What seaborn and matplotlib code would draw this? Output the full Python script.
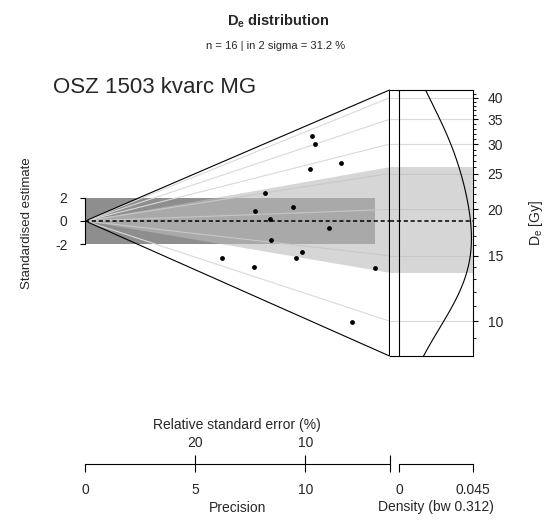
import numpy as np
import pandas as pd
import matplotlib
matplotlib.use("Agg")
import matplotlib.pyplot as plt
import matplotlib.transforms as mtransforms
from matplotlib.patches import Polygon, Rectangle
import seaborn as sns

# ---------------------------------------------------------------- data
# equivalent doses and their standard errors (Gy)
de_gy = [37.8, 35.0, 28.5, 28.8, 25.1, 20.8, 21.1, 19.0,
         17.6, 15.3, 11.2, 14.2, 13.4, 11.1, 13.7, 9.1]
de_err_gy = [3.67, 3.35, 2.45, 2.82, 3.07, 2.69, 2.23, 2.26,
             1.59, 1.81, 1.80, 1.44, 1.40, 1.45, 1.04, 0.75]

de_limits = [8.05, 42.0]
de_major_ticks = [10, 15, 20, 25, 30, 35, 40]
de_minor_ticks = [9, 11, 12, 13, 14, 16, 17, 18, 19, 21, 22, 23, 24,
                  26, 27, 28, 29, 31, 32, 33, 34, 36, 37, 38, 39, 41]
dispersion_bar_gy = [13.5, 26.0]
z_ticks = [-2, 0, 2]
precision_ticks = [0, 5, 10]
rse_ticks = [20, 10]
density_ticks = [0, 0.045]
kde_bw = 0.312
sample_name = "OSZ 1503 kvarc MG"

# ---------------------------------------------------------- statistics
df = pd.DataFrame({"de": de_gy, "err": de_err_gy})
df["log_de"] = np.log(df["de"])
df["precision"] = df["de"] / df["err"]
z0 = np.average(df["log_de"], weights=df["precision"] ** 2)
df["z"] = (df["log_de"] - z0) * df["precision"]
n = len(df)
in_2sigma = 100 * np.mean(np.abs(df["z"]) <= 2)
x_max = 1.05 * df["precision"].max()


def z_at_edge(d):
    return (np.log(d) - z0) * x_max


grid_u = np.linspace(np.log(de_limits[0]), np.log(de_limits[1]), 400)
kern = np.exp(-0.5 * ((grid_u[:, None] - df["log_de"].values[None, :]) / kde_bw) ** 2)
dens = kern.sum(axis=1) / (np.sqrt(2 * np.pi) * kde_bw * n * n)
kde_df = pd.DataFrame({"density": dens, "de": np.exp(grid_u)})

# -------------------------------------------------------------- styling
sns.set_style("white")
plt.rcParams["font.family"] = ["Liberation Sans", "DejaVu Sans"]
plt.rcParams["mathtext.fontset"] = "custom"
plt.rcParams["mathtext.rm"] = "Liberation Sans"
plt.rcParams["mathtext.it"] = "Liberation Sans:italic"
plt.rcParams["mathtext.bf"] = "Liberation Sans:bold"
plt.rcParams["mathtext.sf"] = "Liberation Sans"

rect_col = "#8e8e8e"
band_col = "#bcbcbc"
band_alpha = 0.6
grid_col = "#d9d9d9"
dash = (0, (2.7, 1.8))
LW = 0.8

W, H = 556, 525
fig = plt.figure(figsize=(W / 100, H / 100), dpi=100)


def box(x0, y0, x1, y1):
    return [x0 / W, 1 - y1 / H, (x1 - x0) / W, (y1 - y0) / H]


X0, XE, XD0, XD1 = 85.2, 389.5, 399.3, 472.7
YT, YB = 90, 356
Y_AX = 464

# ------------------------------------------------------- radial part
ax_r = fig.add_axes(box(X0, YT, XE, YB))
ax_r.add_patch(Rectangle((0, -2), df["precision"].max(), 4,
                         fc=rect_col, ec="none", zorder=1))
for d in de_major_ticks:
    ax_r.plot([0, x_max], [0, z_at_edge(d)], color=grid_col, lw=LW, zorder=2)
ax_r.add_patch(Polygon([(0, 0), (x_max, z_at_edge(dispersion_bar_gy[1])),
                        (x_max, z_at_edge(dispersion_bar_gy[0]))],
                       closed=True, fc=band_col, alpha=band_alpha, ec="none", zorder=3))
ax_r.add_patch(Polygon([(0, 0), (x_max, z_at_edge(de_limits[1])),
                        (x_max, z_at_edge(de_limits[0]))],
                       closed=True, fill=False, ec="black", lw=LW, zorder=4,
                       clip_on=False))
ax_r.plot([0, x_max], [0, 0], ls=dash, color="black", lw=1.1, zorder=4)
sns.scatterplot(data=df, x="precision", y="z", ax=ax_r, color="black",
                s=12, linewidth=0, zorder=5)
ax_r.set_xlim(0, x_max)
ax_r.set_ylim(z_at_edge(de_limits[0]), z_at_edge(de_limits[1]))
ax_r.patch.set_visible(False)
for s in ["top", "right", "bottom"]:
    ax_r.spines[s].set_visible(False)
ax_r.spines["left"].set_bounds(-2, 2)
ax_r.spines["left"].set_linewidth(LW)
ax_r.spines["left"].set_color("black")
ax_r.set_xticks([])
ax_r.set_xlabel("")
ax_r.set_yticks(z_ticks)
ax_r.set_yticklabels([str(t) for t in z_ticks])
ax_r.tick_params(axis="y", direction="out", length=3.8, width=LW, pad=8.9,
                 labelsize=10, color="black", left=True)
ax_r.set_ylabel("Standardised estimate", fontsize=9.5)
ax_r.yaxis.label.set_va("center")
ax_r.yaxis.set_label_coords((27 - X0) / (XE - X0), (YB - 223) / (YB - YT))

# ------------------------------------------------------ density panel
ax_d = fig.add_axes(box(XE, YT, XD1, YB))
d_left = -density_ticks[1] * (XD0 - XE) / (XD1 - XD0)
ax_d.set_yscale("log")
for d in de_major_ticks:
    ax_d.axhline(d, color=grid_col, lw=LW, zorder=2)
ax_d.axhspan(dispersion_bar_gy[0], dispersion_bar_gy[1], fc=band_col,
             alpha=band_alpha, ec="none", zorder=3)
ax_d.axhline(np.exp(z0), ls=dash, color="black", lw=1.1, zorder=4)
ax_d.axvline(0, color="black", lw=LW, zorder=4)
sns.lineplot(data=kde_df, x="density", y="de", ax=ax_d, orient="y",
             estimator=None, sort=False, color="black", lw=LW, zorder=5)
ax_d.set_xlim(d_left, density_ticks[1])
ax_d.set_ylim(de_limits)
ax_d.set_xticks([])
ax_d.set_xlabel("")
for s in ax_d.spines.values():
    s.set_linewidth(LW)
    s.set_color("black")
# the radial outline already draws the left edge of this panel
ax_d.spines["left"].set_visible(False)
ax_d.yaxis.tick_right()
ax_d.set_yticks(de_major_ticks)
ax_d.set_yticklabels([str(t) for t in de_major_ticks])
ax_d.set_yticks(de_minor_ticks, minor=True)
ax_d.yaxis.set_minor_formatter(matplotlib.ticker.NullFormatter())
ax_d.tick_params(axis="y", which="major", direction="out", length=3.4,
                 width=LW, pad=7.4, labelsize=10, color="black",
                 right=True, left=False)
ax_d.tick_params(axis="y", which="minor", direction="out", length=1.8,
                 width=LW * 0.8, color="black", right=True, left=False)
ax_d.yaxis.set_label_position("right")
ax_d.set_ylabel(r"D$_\mathrm{e}$ [Gy]", fontsize=10)
ax_d.yaxis.label.set_va("center")
ax_d.yaxis.set_label_coords((536 - XE) / (XD1 - XE), (YB - 222.5) / (YB - YT))

# ---------------------------------------------------- precision axis
fig_y = lambda ypx: 1 - ypx / H
ax_p = fig.add_axes(box(X0, Y_AX - 0.001, XE, Y_AX))
ax_p.patch.set_visible(False)
ax_p.set_xlim(0, x_max)
ax_p.set_yticks([])
for s in ["left", "right", "top"]:
    ax_p.spines[s].set_visible(False)
ax_p.spines["bottom"].set_bounds(0, x_max)
ax_p.spines["bottom"].set_linewidth(LW)
ax_p.spines["bottom"].set_color("black")
ax_p.set_xticks(precision_ticks + [x_max])
ax_p.set_xticklabels([str(t) for t in precision_ticks] + [""])
ax_p.tick_params(axis="x", direction="out", length=5.8, width=LW, pad=7.6,
                 labelsize=10, color="black", bottom=True)
ax_p.set_xlabel("Precision", fontsize=10)
ax_p.xaxis.label.set_va("baseline")
ax_p.xaxis.set_label_coords(0.5, fig_y(511.5),
                            transform=mtransforms.blended_transform_factory(
                                ax_p.transAxes, fig.transFigure))

ax_t = ax_p.twiny()
ax_t.patch.set_visible(False)
ax_t.set_xlim(0, x_max)
for s in ax_t.spines.values():
    s.set_visible(False)
ax_t.set_xticks([100 / r for r in rse_ticks] + [x_max])
ax_t.set_xticklabels([str(r) for r in rse_ticks] + [""])
ax_t.tick_params(axis="x", direction="out", length=6.5, width=LW, pad=3.9,
                 labelsize=10, color="black", top=True)
ax_t.set_xlabel("Relative standard error (%)", fontsize=10)
ax_t.xaxis.label.set_va("baseline")
ax_t.xaxis.set_label_coords(0.5, fig_y(429.3),
                            transform=mtransforms.blended_transform_factory(
                                ax_t.transAxes, fig.transFigure))

# ------------------------------------------------------ density axis
ax_db = fig.add_axes(box(XD0, Y_AX - 0.001, XD1, Y_AX))
ax_db.patch.set_visible(False)
ax_db.set_xlim(density_ticks[0], density_ticks[1])
ax_db.set_yticks([])
for s in ["left", "right", "top"]:
    ax_db.spines[s].set_visible(False)
ax_db.spines["bottom"].set_linewidth(LW)
ax_db.spines["bottom"].set_color("black")
ax_db.set_xticks(density_ticks)
ax_db.set_xticklabels([f"{t:g}" for t in density_ticks])
ax_db.tick_params(axis="x", direction="out", length=5.8, width=LW, pad=7.6,
                  labelsize=10, color="black", bottom=True)
ax_db.set_xlabel(f"Density (bw {kde_bw})", fontsize=10)
ax_db.xaxis.label.set_va("baseline")
ax_db.xaxis.set_label_coords(0.5, fig_y(511.5),
                             transform=mtransforms.blended_transform_factory(
                                 ax_db.transAxes, fig.transFigure))

# ------------------------------------------------------------- titles
fig.text(278 / W, fig_y(25.5), r"D$_\mathbf{e}$ distribution", ha="center",
         va="baseline", fontsize=10.5, fontweight="bold")
fig.text(276 / W, fig_y(49), f"n = {n} | in 2 sigma = {in_2sigma:.1f} %",
         ha="center", va="baseline", fontsize=8)
fig.text(53.2 / W, fig_y(93.3), sample_name, ha="left", va="baseline",
         fontsize=16)

fig.savefig("out.png", dpi=100, facecolor="white")
